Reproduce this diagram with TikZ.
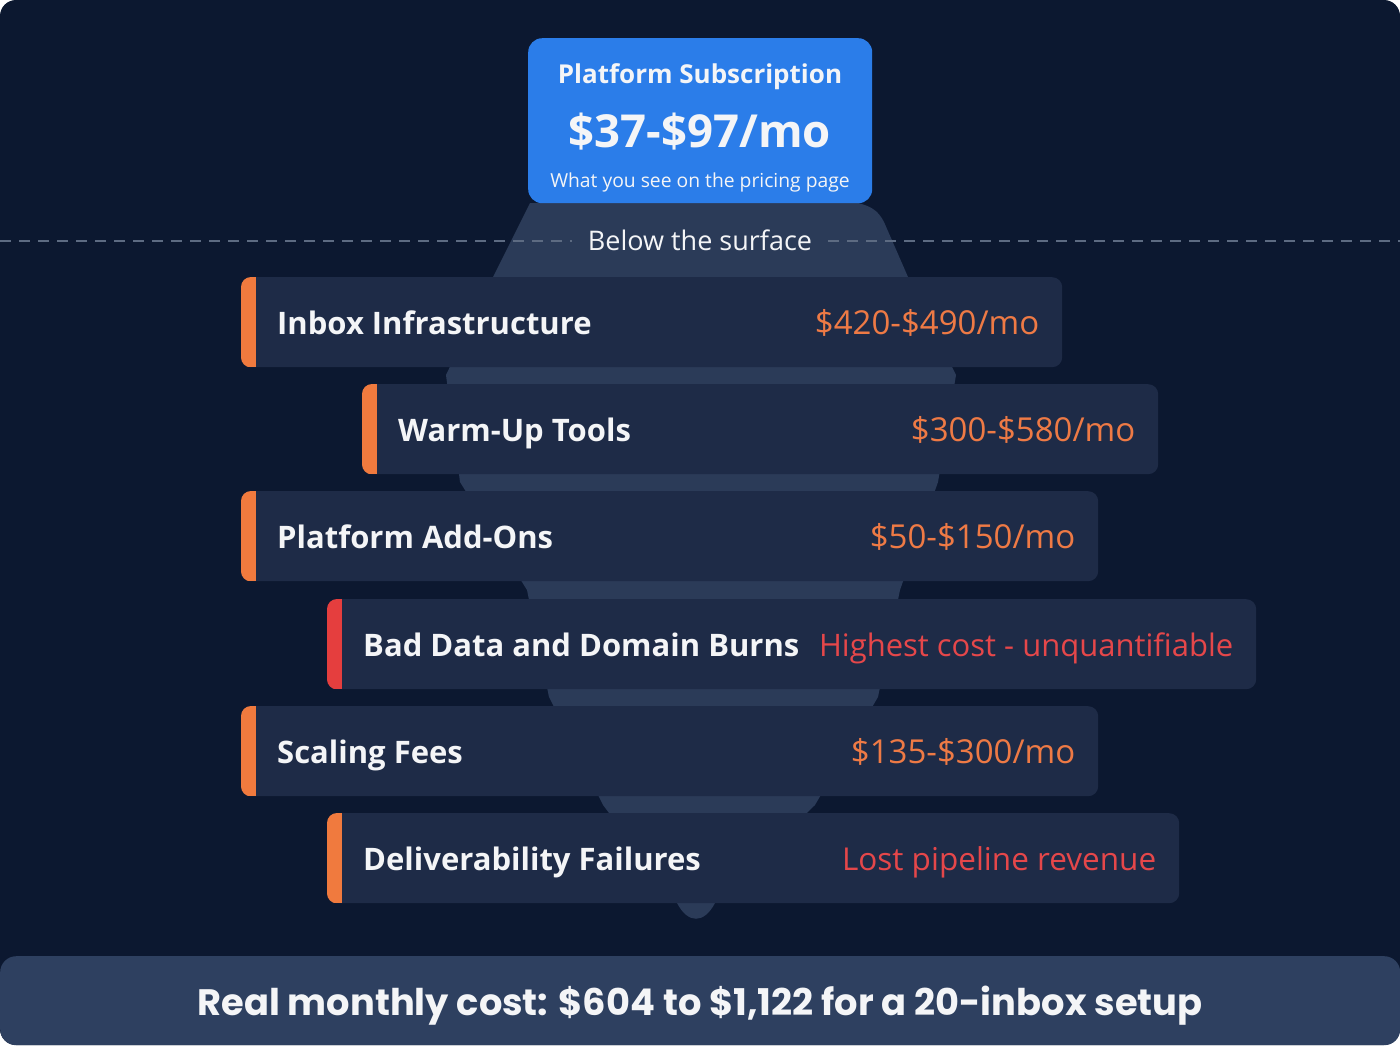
\documentclass[tikz,border=0pt]{standalone}
\usepackage{fontspec}
\setmainfont{Open Sans}
\newfontfamily\popfont{Poppins}
\definecolor{bgc}{HTML}{0C1830}
\definecolor{bergc}{HTML}{2B3B58}
\definecolor{barc}{HTML}{1E2B47}
\definecolor{acco}{HTML}{F07A3E}
\definecolor{accr}{HTML}{E53E3E}
\definecolor{pro}{HTML}{EE7A45}
\definecolor{prr}{HTML}{E5474A}
\definecolor{bluec}{HTML}{2B7DE9}
\definecolor{botc}{HTML}{2E4060}
\definecolor{dashc}{HTML}{5D6B82}
\definecolor{txtc}{HTML}{F4F5F7}
\newcommand\costbar[9]{%
  \node[costbox, minimum width=#4] (#1) at (#2,#3) {};
  \begin{scope}
    \clip[rounded corners=10pt] (#1.north west) rectangle (#1.south east);
    \fill[#5] (#1.north west) rectangle ([xshift=15pt]#1.south west);
  \end{scope}
  \node[lbl] (#1-l) at ([xshift=36pt,yshift=-12pt]#1.west) {#6};
  \node[price, text=#8, font=\fontsize{#9}{36}\selectfont] (#1-p) at ([xshift=-23pt,yshift=-12pt]#1.east) {#7};
}
\begin{document}
\begin{tikzpicture}[x=1pt,y=-1pt,
  costbox/.style={fill=barc, rounded corners=10pt, anchor=north west, inner sep=0pt, minimum height=90pt},
  lbl/.style={anchor=base west, text=txtc, inner sep=0pt, font=\bfseries\fontsize{31}{36}\selectfont},
  price/.style={anchor=base east, inner sep=0pt},
  dashline/.style={draw=dashc, line width=1.5pt, dash pattern=on 11pt off 8pt}
]
\fill[white] (0,0) rectangle (1400,1045);
\fill[bgc, rounded corners=16pt] (0,0) rectangle (1400,1045);
\useasboundingbox (0,0) rectangle (1400,1045);

% iceberg
\fill[bergc] (530,203) -- (493,277) -- (446,375) -- (460,482) -- (527,590) -- (549,697)
  -- (603,805) -- (677,903) .. controls (688,924) and (704,924) .. (715,903)
  -- (815,805) -- (878,697) -- (900,590) -- (938,482) -- (956,375) -- (908,277)
  -- (884,222) .. controls (878,210) and (870,206) .. (858,203) -- cycle;

% top box
\node[fill=bluec, rounded corners=14pt, anchor=north west, inner sep=0pt,
  minimum width=344pt, minimum height=165pt] (top) at (528,38) {};
\node[anchor=base, text=txtc, inner sep=0pt, font=\bfseries\fontsize{26}{30}\selectfont]
  (topt) at (700,83) {Platform Subscription};
\node[anchor=base, text=txtc, inner sep=0pt, font=\bfseries\fontsize{45.5}{50}\selectfont]
  (topp) at (700,147) {\$37-\$97/mo};
\node[anchor=base, text=txtc, inner sep=0pt, font=\fontsize{19.3}{24}\selectfont]
  (tops) at (700,187) {What you see on the pricing page};

% surface line
\node[anchor=base, text=txtc, inner sep=0pt, font=\fontsize{27}{32}\selectfont]
  (surf) at (700,250) {Below the surface};
\coordinate (dl) at (0,241);
\coordinate (dr) at (1400,241);
\draw[dashline] (dl) -- ([xshift=-16pt]surf.west |- dl);
\draw[dashline] ([xshift=16pt]surf.east |- dr) -- (dr);

% bars
\costbar{b1}{241}{277}{821}{acco}{Inbox Infrastructure}{\$420-\$490/mo}{pro}{33}
\costbar{b2}{362}{384}{796}{acco}{Warm-Up Tools}{\$300-\$580/mo}{pro}{33}
\costbar{b3}{241}{491}{857}{acco}{Platform Add-Ons}{\$50-\$150/mo}{pro}{33}
\costbar{b4}{327}{599}{929}{accr}{Bad Data and Domain Burns}{Highest cost - unquantifiable}{prr}{31}
\costbar{b5}{241}{706}{857}{acco}{Scaling Fees}{\$135-\$300/mo}{pro}{33}
\costbar{b6}{327}{813}{852}{acco}{Deliverability Failures}{Lost pipeline revenue}{prr}{31.5}

% bottom bar
\node[fill=botc, rounded corners=16pt, anchor=north west, inner sep=0pt,
  minimum width=1400pt, minimum height=89pt] (bot) at (0,956) {};
\node[anchor=base, text=txtc, inner sep=0pt, font=\popfont\bfseries\fontsize{36.8}{42}\selectfont]
  (bott) at (700,1015) {Real monthly cost: \$604 to \$1,122 for a 20-inbox setup};
\end{tikzpicture}
\end{document}
